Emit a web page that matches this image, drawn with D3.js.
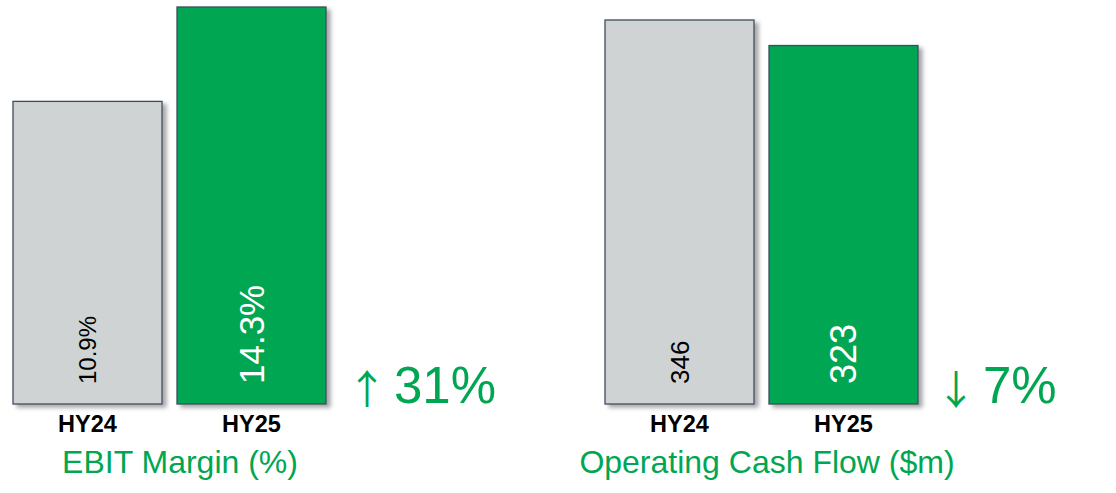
<!DOCTYPE html>
<html><head><meta charset="utf-8">
<script src="https://cdn.jsdelivr.net/npm/d3@7"></script>
<style>
html,body{margin:0;padding:0;background:#fff;}
svg{display:block;font-family:"Liberation Sans",Arial,sans-serif;}
</style></head>
<body>
<svg id="chart" width="1116" height="493"></svg>
<script>
const categories = ["HY24", "HY25"];
const ebitValues = [10.9, 14.3];
const ebitLabels = ["10.9%", "14.3%"];
const ocfValues = [346, 323];
const ocfLabels = ["346", "323"];
const titles = ["EBIT Margin (%)", "Operating Cash Flow ($m)"];
const changeArrows = ["\u2191", "\u2193"];
const changeValues = ["31%", "7%"];

const svg = d3.select("#chart");
const defs = svg.append("defs");
const f = defs.append("filter").attr("id","shadow").attr("x","-10%").attr("y","-10%").attr("width","130%").attr("height","130%");
f.append("feDropShadow").attr("dx",4).attr("dy",3).attr("stdDeviation",2.2).attr("flood-color","#000").attr("flood-opacity",0.35);

const baseline = 404;
const fills = ["#d0d3d4", "#00a651"];
const labelColors = ["#000000", "#ffffff"];

const panels = [
  {values: ebitValues, labels: ebitLabels, range: [13, 326], top: 7, title: titles[0], titleX: 180,
   arrow: changeArrows[0], change: changeValues[0], changeX: 354, labelSizes: [24, 35]},
  {values: ocfValues, labels: ocfLabels, range: [605, 918], top: 20, title: titles[1], titleX: 767,
   arrow: changeArrows[1], change: changeValues[1], changeX: 943, labelSizes: [26, 36]}
];

panels.forEach((p, pi) => {
  const x = d3.scaleBand().domain(categories).range(p.range).paddingInner(15/164).paddingOuter(0);
  const maxV = pi === 0 ? d3.max(p.values) : p.values[0];
  const y = d3.scaleLinear().domain([0, maxV]).range([baseline, p.top]);
  const g = svg.append("g");

  g.selectAll("rect.bar").data(p.values).join("rect")
    .attr("class","bar")
    .attr("x",(d,i)=>x(categories[i]))
    .attr("y",d=>y(d))
    .attr("width",x.bandwidth())
    .attr("height",d=>y(0)-y(d))
    .attr("fill",(d,i)=>fills[i])
    .attr("stroke","#3e4d5f")
    .attr("stroke-width",1.3)
    .attr("filter","url(#shadow)");

  g.selectAll("text.val").data(p.labels).join("text")
    .attr("class","val")
    .attr("transform",(d,i)=>`translate(${x(categories[i])+x.bandwidth()/2},${y(0)-20}) rotate(-90)`)
    .attr("dy","0.35em")
    .attr("text-anchor","start")
    .attr("font-size",(d,i)=>p.labelSizes[i])
    .attr("fill",(d,i)=>labelColors[i])
    .text(d=>d);

  const xAxis = d3.axisBottom(x).tickSize(0).tickPadding(0);
  const ax = g.append("g").attr("transform",`translate(0,${baseline})`).call(xAxis);
  ax.select(".domain").remove();
  ax.selectAll("text").attr("font-size",23.5).attr("font-weight","bold").attr("fill","#000")
    .attr("font-family","'Liberation Sans',Arial,sans-serif").attr("dy",null).attr("y",28);

  g.append("text").attr("x",p.titleX).attr("y",473).attr("text-anchor","middle")
    .attr("font-size",32).attr("fill","#00a651").text(p.title);

  g.append("text").attr("x",p.changeX + 13).attr("y",387).attr("text-anchor","middle")
    .attr("dominant-baseline","central")
    .attr("font-size",40).attr("font-family","'Noto Sans CJK SC',sans-serif").attr("fill","#00a651")
    .text(p.arrow);
  g.append("text").attr("x",p.changeX + 40).attr("y",403).attr("text-anchor","start")
    .attr("font-size",51).attr("fill","#00a651").text(p.change);
});
</script>
</body></html>
